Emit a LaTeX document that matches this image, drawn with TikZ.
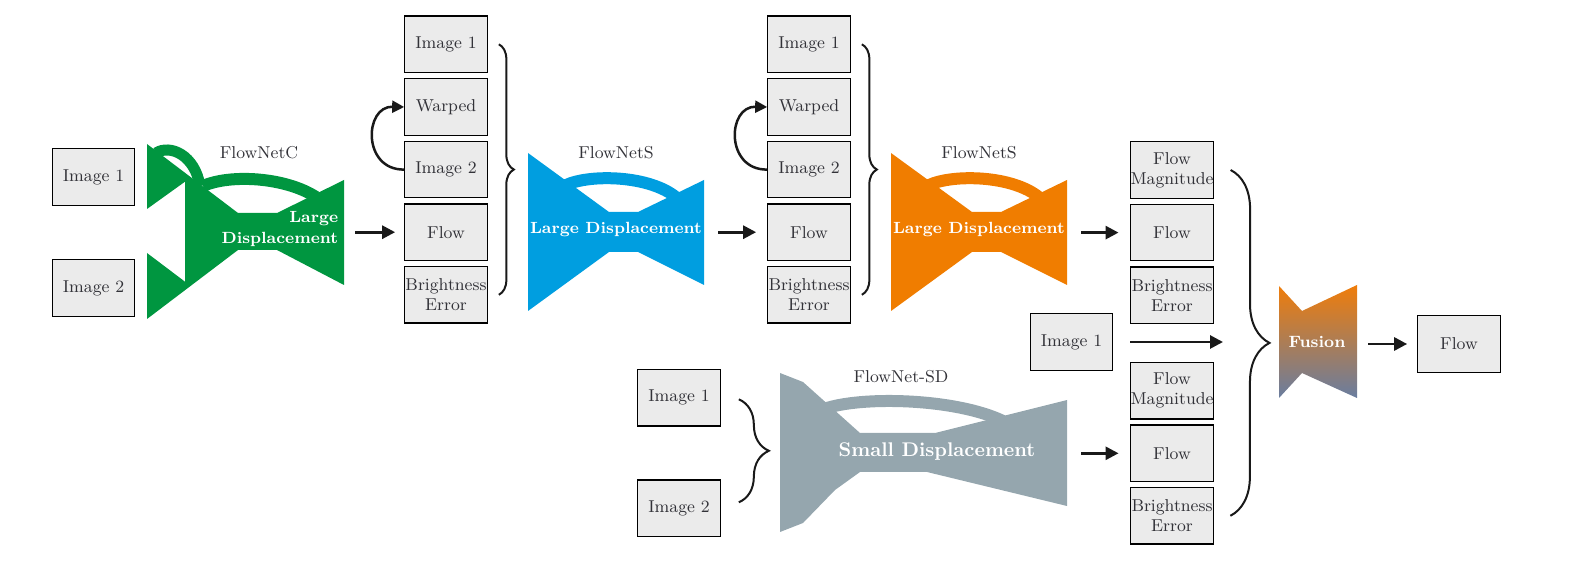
\documentclass[tikz,border=0pt]{standalone}
\usetikzlibrary{arrows.meta,decorations.pathreplacing,calc}
\definecolor{gFill}{RGB}{0,150,64}
\definecolor{bFill}{RGB}{0,158,224}
\definecolor{oFill}{RGB}{240,125,0}
\definecolor{sFill}{RGB}{149,166,174}
\definecolor{boxFill}{RGB}{235,235,235}
\definecolor{txt}{RGB}{50,50,56}
\definecolor{fusTop}{RGB}{240,125,10}
\definecolor{fusBot}{RGB}{105,125,160}
\begin{document}
\begin{tikzpicture}[x=0.5pt,y=-0.5pt,
  box/.style={draw=black,line width=0.6pt,fill=boxFill,minimum width=41.25pt,minimum height=28.25pt,inner sep=0pt,align=center,font=\fontsize{8.6}{10}\selectfont,text=txt},
  arr/.style={line width=1.4pt,draw=black!90,-{Triangle[length=6.5pt,width=6.5pt]}},
  brc/.style={line width=1pt,draw=black!90,decorate,decoration={brace,amplitude=#1}},
  lbl/.style={font=\fontsize{8.6}{10}\selectfont,text=txt},
  wlbl/.style={font=\fontsize{8.1}{10.5}\selectfont\bfseries,text=white,align=center,inner sep=0pt},
  skipband/.style={line width=6pt}
]
\useasboundingbox (0,0) rectangle (1591,566);

% ---------- FlowNetC (green)
\fill[gFill] (147,144) -- (238,213) -- (277,213) -- (344,180) -- (344,285) -- (277,250) -- (238,250)
  -- (147,319) -- (147,253) -- (185,281.7) -- (185,181.7) -- (147,209) -- cycle;
\draw[gFill,line width=5.5pt] (156,153) .. controls (170,144) and (195,155) .. (200,186);
\draw[gFill,skipband] (203,186) .. controls (230,174) and (285,177) .. (316,197);

% ---------- FlowNetS (blue)
\fill[bFill] (528,153) -- (609,212) -- (638,212) -- (704,180) -- (704,285) -- (638,252) -- (609,252) -- (528,311) -- cycle;
\draw[bFill,skipband] (566,185) .. controls (590,174) and (650,175) .. (677,198);

% ---------- FlowNetS (orange)
\fill[oFill] (891,153) -- (972,212) -- (1001,212) -- (1067,180) -- (1067,285) -- (1001,252) -- (972,252) -- (891,311) -- cycle;
\draw[oFill,skipband] (929,185) .. controls (953,174) and (1013,175) .. (1040,198);

% ---------- FlowNet-SD (gray)
\fill[sFill] (780,373) -- (803,382) -- (860,433) -- (935,433) -- (1067,400) -- (1067,506) -- (927,472)
  -- (860,472) -- (835,490) -- (803,523) -- (780,532) -- cycle;
\draw[sFill,skipband] (824,409) .. controls (860,396) and (955,398) .. (1003,421);

% ---------- Fusion
\shade[top color=fusTop,bottom color=fusBot] (1279,286) -- (1302,311) -- (1357,285) -- (1357,398) -- (1302,373) -- (1279,398) -- cycle;

% ---------- labels
\node[lbl] (lC) at (259,153) {FlowNetC};
\node[lbl] (lS1) at (616,153) {FlowNetS};
\node[lbl] (lS2) at (979,153) {FlowNetS};
\node[lbl] (lSD) at (901,377) {FlowNet-SD};
\node[wlbl,align=right,anchor=east] (gT) at (338.5,229) {Large\\Displacement};
\node[wlbl] (bT) at (616,230) {Large Displacement};
\node[wlbl] (oT) at (979,230) {Large Displacement};
\node[wlbl,font=\fontsize{9.9}{12}\selectfont\bfseries] (sT) at (937,452) {Small Displacement};
\node[wlbl,font=\fontsize{8.2}{10}\selectfont\bfseries] (fT) at (1317,342) {Fusion};

% ---------- boxes
\node[box] (c1a) at (93.5,177) {Image 1};
\node[box] (c1b) at (93.5,288) {Image 2};

\node[box] (c2a) at (446,44.3) {Image 1};
\node[box] (c2b) at (446,107) {Warped};
\node[box] (c2c) at (446,169.6) {Image 2};
\node[box] (c2d) at (446,232.2) {Flow};
\node[box] (c2e) at (446,294.8) {Brightness\\Error};

\node[box] (c3a) at (809,44.3) {Image 1};
\node[box] (c3b) at (809,107) {Warped};
\node[box] (c3c) at (809,169.6) {Image 2};
\node[box] (c3d) at (809,232.2) {Flow};
\node[box] (c3e) at (809,294.8) {Brightness\\Error};

\node[box] (c4a) at (1172,170) {Flow\\Magnitude};
\node[box] (c4b) at (1172,232.6) {Flow};
\node[box] (c4c) at (1172,295.3) {Brightness\\Error};
\node[box] (c4d) at (1172,390.8) {Flow\\Magnitude};
\node[box] (c4e) at (1172,453.3) {Flow};
\node[box] (c4f) at (1172,515.8) {Brightness\\Error};

\node[box] (sdA) at (679,397.8) {Image 1};
\node[box] (sdB) at (679,508.3) {Image 2};

\node[box] (fImg) at (1071.5,342) {Image 1};
\node[box] (out) at (1459,344) {Flow};

% ---------- arrows
\coordinate (gOut) at (355,232.2);
\coordinate (bOut) at (718,232.2);
\coordinate (oOut) at (1081,232.6);
\coordinate (sOut) at (1081,453.3);
\coordinate (fIn) at (1223,342);
\coordinate (fusOut) at (1368,344);
\draw[arr,shorten >=4.5pt] (gOut) -- (c2d.west);
\draw[arr,shorten >=5.5pt] (bOut) -- (c3d.west);
\draw[arr,shorten >=5.8pt] (oOut) -- (c4b.west);
\draw[arr,shorten >=5.8pt] (sOut) -- (c4e.west);
\draw[arr,shorten <=8.5pt] (fImg.east) -- (fIn);
\draw[arr,shorten >=5pt] (fusOut) -- (out.west);

\draw[line width=1.25pt,draw=black!90,-{Triangle[length=6pt,width=6pt]}] (c2c.west) .. controls (362,170) and (364,106) .. (c2b.west);
\draw[line width=1.25pt,draw=black!90,-{Triangle[length=6pt,width=6pt]}] (c3c.west) .. controls (725,170) and (727,106) .. (c3b.west);

% ---------- braces
\draw[brc=7.5pt] ($(c2a.east)+(11,0)$) -- ($(c2e.east)+(11,0)$);
\draw[brc=7.5pt] ($(c3a.east)+(11,0)$) -- ($(c3e.east)+(11,0)$);
\draw[brc=15pt] ($(sdA.east)+(18,1.5)$) -- ($(sdB.east)+(18,-6)$);
\draw[brc=19.5pt] ($(c4a.east)+(16.5,0)$) -- ($(c4f.east)+(16.5,0)$);
\end{tikzpicture}
\end{document}
